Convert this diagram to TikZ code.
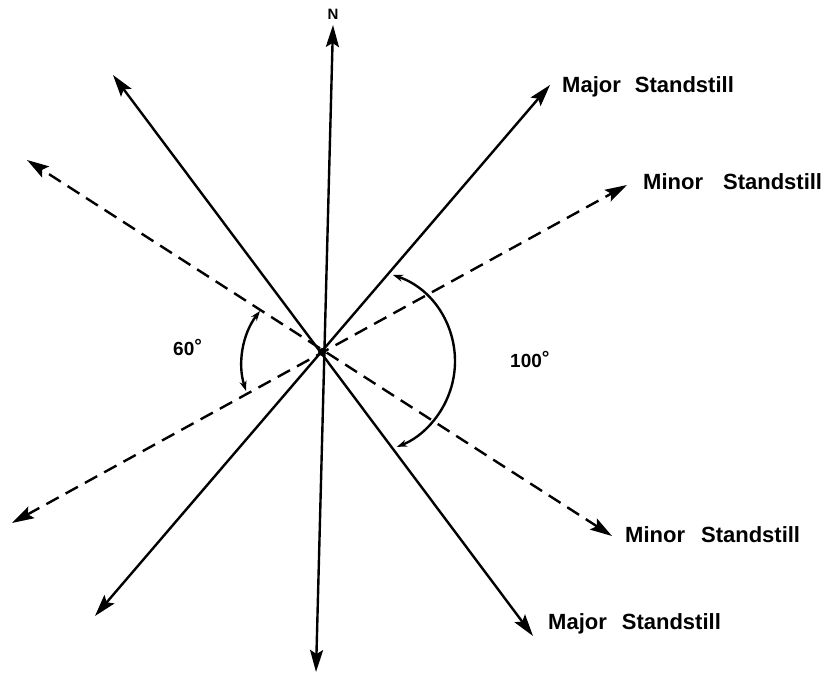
\documentclass[tikz,border=0pt]{standalone}
\usepackage{fontspec}
\setmainfont{Liberation Sans}
\usetikzlibrary{arrows.meta}
\begin{document}
\begin{tikzpicture}[x=1pt,y=1pt,
  ray/.style={line width=2.4pt, {Stealth[length=22pt,width=13pt,inset=4pt]}-{Stealth[length=22pt,width=13pt,inset=4pt]}},
  dashray/.style={ray, dash pattern=on 14pt off 8pt},
  angarc/.style={line width=2.4pt, {Stealth[length=10pt,width=7pt]}-{Stealth[length=10pt,width=7pt]}},
  lbl/.style={font=\fontsize{22}{22}\selectfont\bfseries, anchor=base west, inner sep=0pt},
  deg/.style={font=\fontsize{19}{19}\selectfont\bfseries, anchor=base west, inner sep=0pt}]
\useasboundingbox (0,0) rectangle (828,679);
% ray end points
\coordinate (Ntop) at (333,654);
\coordinate (Nbot) at (316,7);
\coordinate (MajNE) at (550,594);
\coordinate (MajSW) at (95,63);
\coordinate (MajNW) at (113,604);
\coordinate (MajSE) at (533,43);
\coordinate (MinNE) at (627,494);
\coordinate (MinSW) at (12,156);
\coordinate (MinNW) at (27,519);
\coordinate (MinSE) at (612,143);
% rays
\draw[ray] (Nbot) -- (Ntop);
\draw[ray] (MajSW) -- (MajNE);
\draw[ray] (MajSE) -- (MajNW);
\draw[dashray] (MinSW) -- (MinNE);
\draw[dashray] (MinSE) -- (MinNW);
\node[circle, fill, inner sep=0pt, minimum size=8pt] (C) at (322,327) {};
% angle arcs
\coordinate (A60) at (260,368);
\draw[angarc] (A60) arc[start angle=142.4, end angle=197.8, radius=87.3];
\coordinate (A100) at (393,404);
\draw[angarc] (A100) arc[start angle=71.1, end angle=-68.5, radius=91.6];
% labels
\node[font=\fontsize{15}{15}\selectfont\bfseries, inner sep=0pt] (lN) at (333,665) {N};
\node[lbl] (l1) at (562,586) {Major\hspace{14pt}Standstill};
\node[lbl] (l2) at (643,489) {Minor\hspace{20pt}Standstill};
\node[lbl] (l3) at (625,136) {Minor\hspace{16pt}Standstill};
\node[lbl] (l4) at (548,49) {Major\hspace{15pt}Standstill};
\node[deg] (d60) at (173,323) {60\raisebox{3pt}{°}};
\node[deg] (d100) at (510,311) {100\raisebox{3pt}{°}};
\end{tikzpicture}
\end{document}
